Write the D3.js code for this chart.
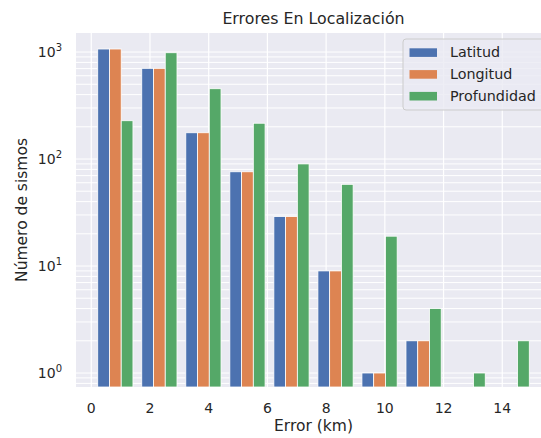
<!DOCTYPE html>
<html lang="es">
<head>
<meta charset="utf-8">
<title>Errores En Localización</title>
<script src="https://cdn.jsdelivr.net/npm/d3@7"></script>
<style>
  body { margin: 0; background: #fff; }
  svg { font-family: "DejaVu Sans", sans-serif; display: block; }
</style>
</head>
<body>
<script>
// histogram bins (km) and counts per series
var binStart = 0.07;
var binWidth = 1.5;
var seriesNames = ["Latitud", "Longitud", "Profundidad"];
var latitud     = [1067, 704, 176, 76, 29, 9, 1, 2, 0, 0];
var longitud    = [1067, 704, 176, 76, 29, 9, 1, 2, 0, 0];
var profundidad = [228, 985, 454, 216, 90, 58, 19, 4, 1, 2];
var xTicks = [0, 2, 4, 6, 8, 10, 12, 14];
var yTicks = [1, 10, 100, 1000];
var colors = ["#4C72B0", "#DD8452", "#55A868"];

var W = 541, H = 438;
// plot area (note: "top" is reserved on window, so use p* names)
var pLeft = 76, pRight = 551, pTop = 33, pBottom = 387;

var svg = d3.select("body").append("svg")
    .attr("width", W).attr("height", H);

var x = d3.scaleLinear().domain([-0.52, 15.66]).range([pLeft, pRight]);
var y = d3.scaleLog().domain([0.74, 1506]).range([pBottom, pTop]);

svg.append("rect")
    .attr("x", pLeft).attr("y", pTop)
    .attr("width", pRight - pLeft).attr("height", pBottom - pTop)
    .attr("fill", "#EAEAF2");

// grid
var minor = [];
[0.1, 1, 10, 100, 1000].forEach(function (d) {
  for (var k = 1; k < 10; k++) {
    var v = d * k;
    if (v >= 0.74 && v <= 1506) minor.push(v);
  }
});
svg.append("g").selectAll("line").data(minor).enter().append("line")
    .attr("x1", pLeft).attr("x2", pRight)
    .attr("y1", function (d) { return y(d); })
    .attr("y2", function (d) { return y(d); })
    .attr("stroke", "#fff").attr("stroke-width", 1);
svg.append("g").selectAll("line").data(xTicks).enter().append("line")
    .attr("x1", function (d) { return x(d); })
    .attr("x2", function (d) { return x(d); })
    .attr("y1", pTop).attr("y2", pBottom)
    .attr("stroke", "#fff").attr("stroke-width", 1.2);

// bars
var all = [latitud, longitud, profundidad];
var barW = binWidth * 0.8 / 3;
all.forEach(function (vals, s) {
  svg.append("g").selectAll("rect")
      .data(vals.map(function (v, i) { return { v: v, i: i }; })
                .filter(function (d) { return d.v > 0; }))
      .enter().append("rect")
      .attr("x", function (d) {
        return x(binStart + d.i * binWidth + binWidth * 0.1 + s * barW);
      })
      .attr("width", x(barW) - x(0))
      .attr("y", function (d) { return y(d.v); })
      .attr("height", function (d) { return pBottom - y(d.v); })
      .attr("fill", colors[s])
      .attr("stroke", "#fff").attr("stroke-width", 0.8);
});

// x tick labels
svg.append("g").selectAll("text").data(xTicks).enter().append("text")
    .attr("x", function (d) { return x(d); })
    .attr("y", 412.5)
    .attr("text-anchor", "middle")
    .attr("font-size", 14)
    .attr("fill", "#262626")
    .text(function (d) { return d; });

// y tick labels
var yt = svg.append("g").selectAll("text").data(yTicks).enter().append("text")
    .attr("x", 62)
    .attr("y", function (d) { return y(d) + 5; })
    .attr("text-anchor", "end")
    .attr("font-size", 14)
    .attr("fill", "#262626");
yt.append("tspan").text("10");
yt.append("tspan")
    .attr("font-size", 10)
    .attr("dy", -6)
    .text(function (d) { return Math.round(Math.log10(d)); });

// title and axis labels
svg.append("text")
    .attr("x", (pLeft + pRight) / 2).attr("y", 24)
    .attr("text-anchor", "middle")
    .attr("font-size", 15.8).attr("fill", "#262626")
    .text("Errores En Localización");
svg.append("text")
    .attr("x", (pLeft + pRight) / 2).attr("y", 431)
    .attr("text-anchor", "middle")
    .attr("font-size", 15.5).attr("fill", "#262626")
    .text("Error (km)");
svg.append("text")
    .attr("transform", "translate(27," + ((pTop + pBottom) / 2) + ") rotate(-90)")
    .attr("text-anchor", "middle")
    .attr("font-size", 15.5).attr("fill", "#262626")
    .text("Número de sismos");

// legend
var lg = svg.append("g").attr("transform", "translate(403,39)");
lg.append("rect")
    .attr("width", 145).attr("height", 71).attr("rx", 3)
    .attr("fill", "#EAEAF2").attr("fill-opacity", 0.8)
    .attr("stroke", "#cccccc").attr("stroke-width", 1);
var items = lg.selectAll("g.item").data(seriesNames).enter().append("g")
    .attr("transform", function (d, i) { return "translate(0," + (13.5 + i * 21.8) + ")"; });
items.append("rect")
    .attr("x", 6.5).attr("y", -4.2)
    .attr("width", 27.5).attr("height", 8.6)
    .attr("fill", function (d, i) { return colors[i]; });
items.append("text")
    .attr("x", 47).attr("y", 4.8)
    .attr("font-size", 14.3).attr("fill", "#262626")
    .text(function (d) { return d; });
</script>
</body>
</html>
